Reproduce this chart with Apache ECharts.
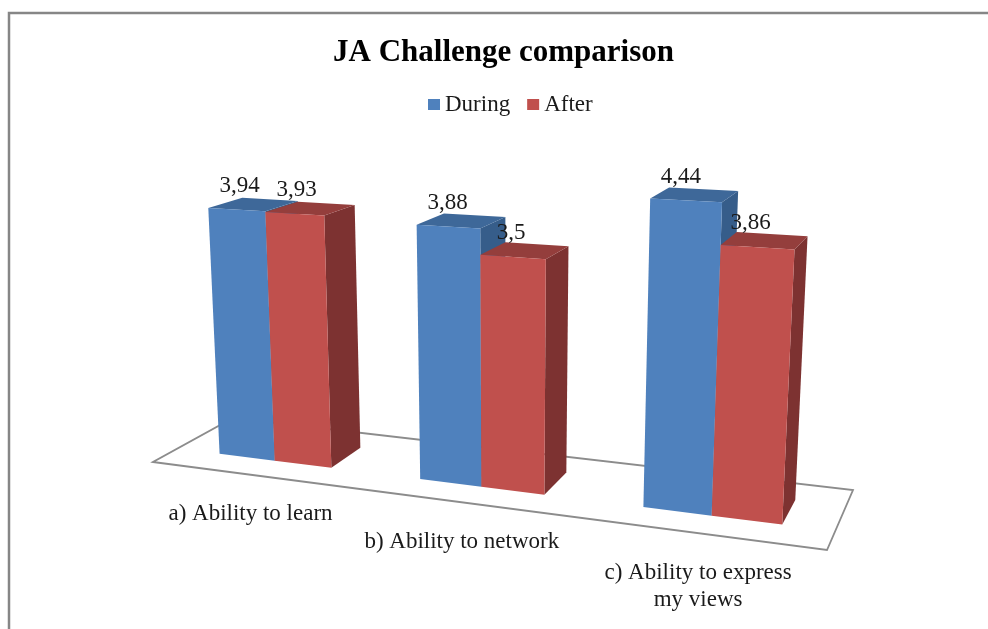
<!DOCTYPE html>
<html>
<head>
<meta charset="utf-8">
<style>
  html, body { margin: 0; padding: 0; background: #fff; }
  #chart { width: 988px; height: 629px; }
</style>
<script src="https://cdn.jsdelivr.net/npm/echarts@6/dist/echarts.min.js"></script>
</head>
<body>
<div id="chart"></div>
<script>
const categories = ['a) Ability to learn', 'b) Ability to network', 'c) Ability to express\nmy views'];
const during = [3.94, 3.88, 4.44];
const after = [3.93, 3.5, 3.86];

const font = '"Liberation Serif", "Times New Roman", serif';

// floor corners on screen: front left, front right, back right, back left
const floor = [[153, 462], [827, 550], [853, 490], [233, 418]];
// verticals lean towards this point, far below the chart
const vanish = [507, 6700];
const heightScale = 0.0488;

// unit square -> floor quad
function floorMatrix(q) {
  const sx = q[0][0] - q[1][0] + q[2][0] - q[3][0];
  const sy = q[0][1] - q[1][1] + q[2][1] - q[3][1];
  const d1x = q[1][0] - q[2][0], d1y = q[1][1] - q[2][1];
  const d2x = q[3][0] - q[2][0], d2y = q[3][1] - q[2][1];
  const det = d1x * d2y - d2x * d1y;
  const g = (sx * d2y - d2x * sy) / det;
  const h = (d1x * sy - sx * d1y) / det;
  return {
    a: q[1][0] - q[0][0] + g * q[1][0], b: q[3][0] - q[0][0] + h * q[3][0], c: q[0][0],
    d: q[1][1] - q[0][1] + g * q[1][1], e: q[3][1] - q[0][1] + h * q[3][1], f: q[0][1],
    g: g, h: h
  };
}
const m = floorMatrix(floor);

// u along the categories, v into the depth, t = share of the value axis
function project(u, v, t) {
  const k = -t * heightScale;
  const w = m.g * u + m.h * v + 1 + k;
  return [
    (m.a * u + m.b * v + m.c + k * vanish[0]) / w,
    (m.d * u + m.e * v + m.f + k * vanish[1]) / w
  ];
}

function poly(points, color) {
  return { type: 'polygon', shape: { points: points }, style: { fill: color }, silent: true };
}

const depthFront = 0.29, depthBack = 0.71, barShare = 0.285, barNudge = 0.0025;

function barRenderer(side, front, top, dark) {
  return function (params, api) {
    const cs = params.coordSys;
    const pos = api.coord([api.value(0), api.value(1)]);
    const center = (pos[0] - cs.x) / cs.width + barNudge;
    const t = (cs.y + cs.height - pos[1]) / cs.height;
    const w = barShare * api.size([1, 0])[0] / cs.width;
    const u0 = center + side * w, u1 = u0 + w;

    const fl = project(u0, depthFront, 0), fr = project(u1, depthFront, 0), br = project(u1, depthBack, 0);
    const tfl = project(u0, depthFront, t), tfr = project(u1, depthFront, t);
    const tbr = project(u1, depthBack, t), tbl = project(u0, depthBack, t);
    const mid = project((u0 + u1) / 2, (depthFront + depthBack) / 2, t);

    return {
      type: 'group',
      children: [
        poly([tfr, tbr, br, fr], dark),
        poly([tfl, tfr, tbr, tbl], top),
        poly([fl, fr, tfr, tfl], front),
        {
          type: 'text', silent: true, z2: 10,
          x: mid[0] - 14, y: mid[1] - 18,
          style: {
            text: String(api.value(1)).replace('.', ','),
            font: '23px ' + font, fill: '#1a1a1a', align: 'center', verticalAlign: 'middle'
          }
        }
      ]
    };
  };
}

const option = {
  animation: false,
  backgroundColor: '#fff',
  title: {
    text: 'JA Challenge comparison', left: 333, top: 37, padding: 0,
    textStyle: { fontFamily: font, fontSize: 31, fontWeight: 'bold', color: '#000' }
  },
  legend: {
    data: ['During', 'After'], left: 428, top: 93, padding: 0, icon: 'rect',
    itemWidth: 12, itemHeight: 11, itemGap: 17,
    textStyle: { fontFamily: font, fontSize: 23, color: '#1a1a1a' }
  },
  grid: { left: 0, right: 0, top: 0, bottom: 0 },
  xAxis: { type: 'category', data: categories, show: false },
  yAxis: { type: 'value', min: 0, max: 5, show: false },
  graphic: [{
    type: 'polyline', silent: true,
    shape: { points: [[9, 629], [9, 13], [988, 13]] },
    style: { stroke: '#868686', lineWidth: 2.5, fill: null }
  }],
  series: [
    {
      type: 'custom', name: 'floor', silent: true, z: 1,
      data: categories.map((c, i) => [i, 0, c]),
      encode: { x: 0, y: 1 },
      renderItem: function (params, api) {
        const pos = api.coord([api.value(0), 0]);
        const u = (pos[0] - params.coordSys.x) / params.coordSys.width;
        const at = project(u, 0, 0);
        const children = [{
          type: 'text', silent: true,
          x: at[0], y: at[1] + 26,
          style: {
            text: categories[api.value(0)], font: '23px ' + font, fill: '#1a1a1a',
            align: 'center', verticalAlign: 'top', lineHeight: 27
          }
        }];
        if (params.dataIndex === 0) {
          children.unshift({
            type: 'polygon', silent: true,
            shape: { points: [project(0, 0, 0), project(1, 0, 0), project(1, 1, 0), project(0, 1, 0)] },
            style: { fill: '#fff', stroke: '#8c8c8c', lineWidth: 1.8 }
          });
        }
        return { type: 'group', children: children };
      }
    },
    {
      type: 'custom', name: 'During', z: 2,
      itemStyle: { color: '#4F81BD' },
      data: during.map((v, i) => [i, v]),
      encode: { x: 0, y: 1 },
      renderItem: barRenderer(-1, '#4F81BD', '#3E6899', '#365D8A')
    },
    {
      type: 'custom', name: 'After', z: 3,
      itemStyle: { color: '#C0504D' },
      data: after.map((v, i) => [i, v]),
      encode: { x: 0, y: 1 },
      renderItem: barRenderer(0, '#C0504D', '#943E3C', '#7D3231')
    }
  ]
};

const chart = echarts.init(document.getElementById('chart'));
chart.setOption(option);
</script>
</body>
</html>
